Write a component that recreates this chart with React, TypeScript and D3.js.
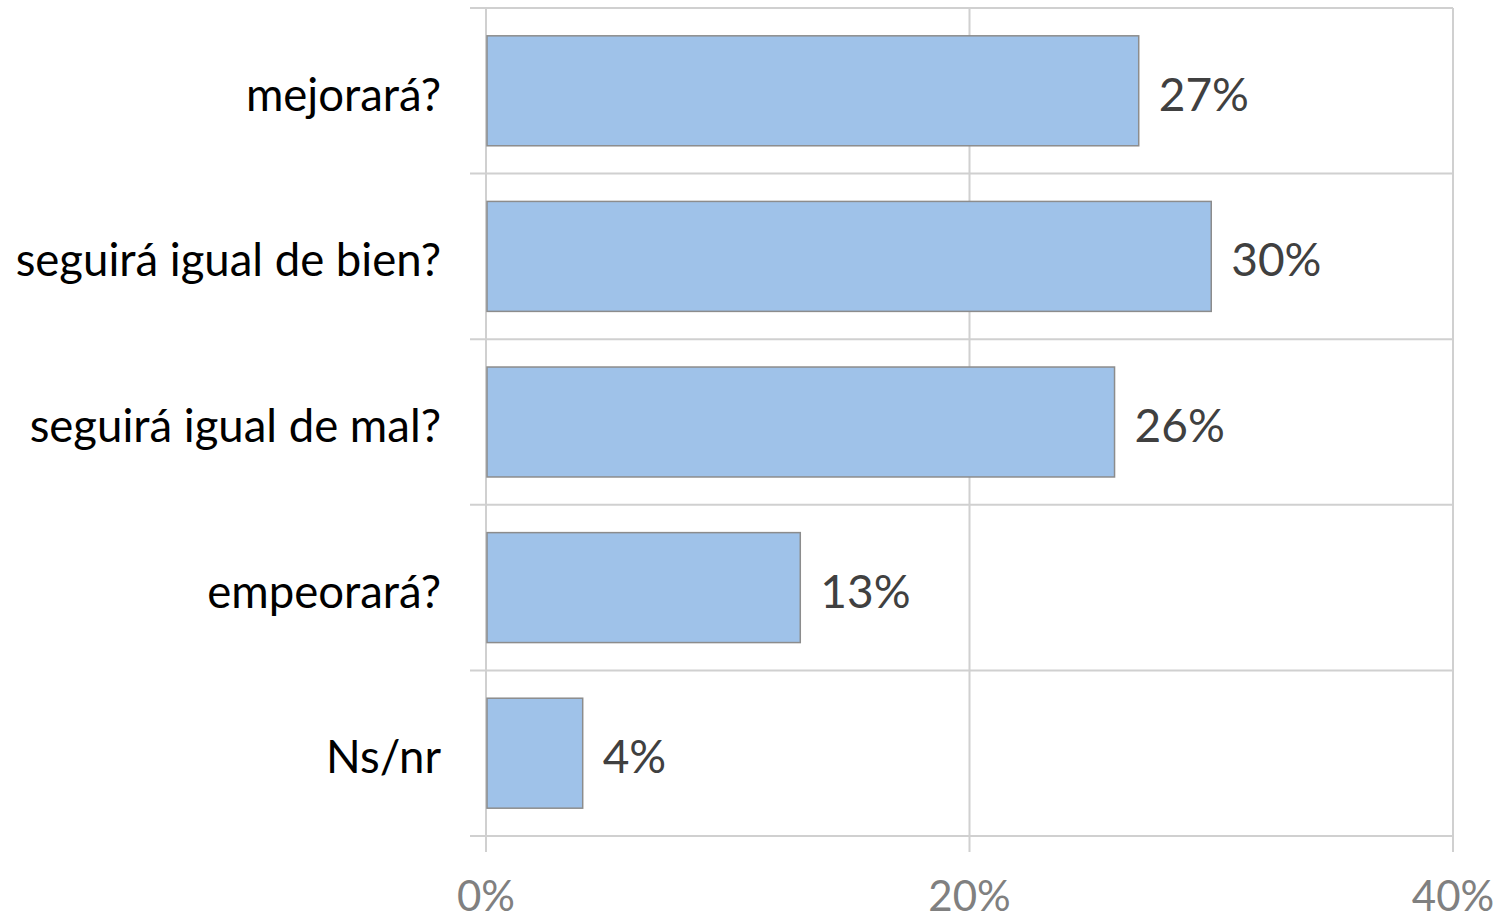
import React from "react";
import * as d3 from "d3";

const categories = ["mejorará?", "seguirá igual de bien?", "seguirá igual de mal?", "empeorará?", "Ns/nr"];
const values = [0.27, 0.30, 0.26, 0.13, 0.04];
const xTicks = [0, 0.2, 0.4];

const W = 1503;
const H = 920;
const FONT = "Lato, 'Open Sans', sans-serif";

export default function App() {
  const x = d3.scaleLinear().domain([0, 0.4]).range([486, 1453]);
  const y = d3.scaleBand<string>().domain(categories).range([8, 836]).paddingInner(0.336).paddingOuter(0.168);
  const step = y.step();
  const bw = y.bandwidth();
  const gap = (step - bw) / 2;
  const boundaries = categories.map((c) => (y(c) as number) - gap).concat([836]);
  const fmt = d3.format(".0%");
  const grid = "#d0d0d0";

  return (
    <svg width={W} height={H} style={{ position: "absolute", left: 0, top: 0, background: "#fff" }} fontFamily={FONT}>
      {xTicks.map((t) => (
        <line key={"v" + t} x1={x(t)} x2={x(t)} y1={8} y2={852} stroke={grid} strokeWidth={2} />
      ))}
      {boundaries.map((b, i) => (
        <line key={"h" + i} x1={470} x2={x(0.4)} y1={b} y2={b} stroke={grid} strokeWidth={2} />
      ))}
      {categories.map((c, i) => (
        <rect
          key={c}
          x={x(0) + 1}
          y={y(c) as number}
          width={x(values[i]) - x(0) - 1}
          height={bw}
          fill="#9fc2e9"
          stroke="#8c8c8c"
          strokeWidth={1.5}
        />
      ))}
      {categories.map((c, i) => (
        <text
          key={"l" + c}
          x={x(values[i]) + 20}
          y={(y(c) as number) + bw / 2 + 20}
          fontSize={46}
          fill="#404040"
        >
          {fmt(values[i])}
        </text>
      ))}
      {categories.map((c) => (
        <text
          key={"c" + c}
          x={441}
          y={(y(c) as number) + bw / 2 + 20}
          textAnchor="end"
          fontSize={45.5}
          fill="#000"
        >
          {c}
        </text>
      ))}
      {xTicks.map((t) => (
        <text key={"t" + t} x={x(t)} y={911} textAnchor="middle" fontSize={42} fill="#808080">
          {fmt(t)}
        </text>
      ))}
    </svg>
  );
}
